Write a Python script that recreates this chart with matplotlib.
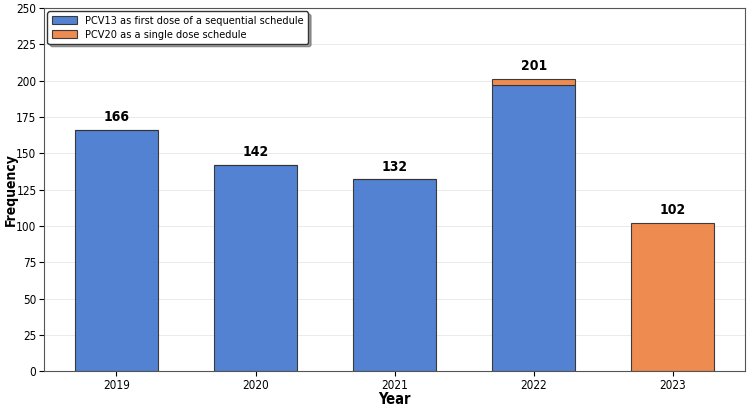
import numpy as np
import matplotlib.pyplot as plt

plt.rcParams['font.family'] = ['DejaVu Sans']
plt.rcParams['font.stretch'] = 'condensed'

years = ['2019', '2020', '2021', '2022', '2023']
pcv13 = [166, 142, 132, 197, 0]
pcv20 = [0, 0, 0, 4, 102]
totals = [166, 142, 132, 201, 102]

blue = '#4a7bd0'
orange = '#ee8547'

fig = plt.figure(figsize=(7.48, 4.07), dpi=100)
ax = fig.add_axes([0.059, 0.088, 0.937, 0.892])

x = np.arange(len(years))
ax.bar(x, pcv13, width=0.6, color=blue, edgecolor='#333333', linewidth=0.8,
       alpha=0.95, label='PCV13 as first dose of a sequential schedule')
ax.bar(x, pcv20, width=0.6, bottom=pcv13, color=orange, edgecolor='#333333',
       linewidth=0.8, alpha=0.95, label='PCV20 as a single dose schedule')

for xi, t in zip(x, totals):
    ax.text(xi, t + 4, str(t), ha='center', va='bottom', fontsize=10, fontweight='bold')

ax.set_xticks(x)
ax.set_xticklabels(years, fontsize=8.5)
ax.set_xlim(-0.52, 4.52)
ax.set_ylim(0, 250)
ax.set_yticks(np.arange(0, 251, 25))
ax.tick_params(axis='x', pad=2)
ax.tick_params(axis='y', labelsize=8.5, pad=2)
ax.set_xlabel('Year', fontsize=10.5, fontweight='bold', labelpad=0)
ax.set_ylabel('Frequency', fontsize=10, fontweight='bold')
ax.yaxis.set_label_coords(-0.037, 0.5)
ax.grid(axis='y', alpha=0.3, linewidth=0.6)
ax.set_axisbelow(True)
for s in ax.spines.values():
    s.set_color('#555555')

leg = ax.legend(loc='upper left', fontsize=7.8, frameon=True, fancybox=True,
                shadow={'ox': 2, 'oy': -2, 'alpha': 0.5}, borderaxespad=0.3,
                handlelength=2.3, labelspacing=0.35)
leg.get_frame().set_edgecolor('#333333')

plt.savefig('out.png', dpi=100)
